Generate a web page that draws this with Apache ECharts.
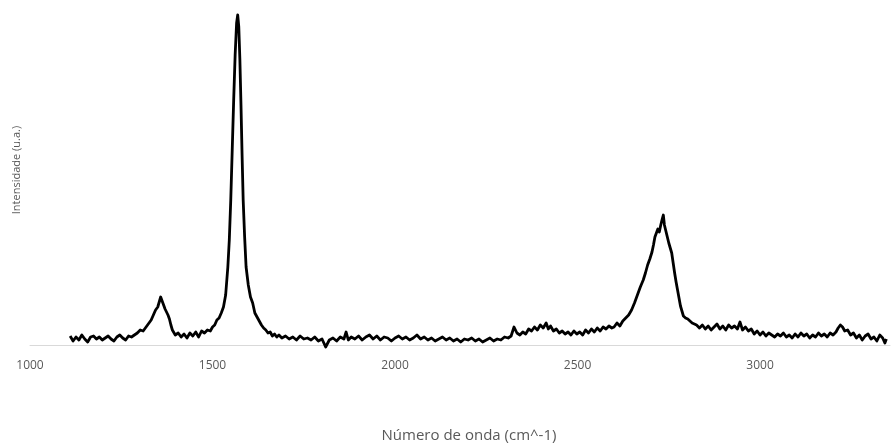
<!DOCTYPE html>
<html>
<head>
<meta charset="utf-8">
<script src="https://cdn.jsdelivr.net/npm/echarts@6/dist/echarts.min.js"></script>
<style>
html,body{margin:0;padding:0;background:#fff;}
#c{width:891px;height:445px;}
</style>
</head>
<body>
<div id="c"></div>
<script>
const xTicks = [1000, 1500, 2000, 2500, 3000];
const xTitle = "Número de onda (cm^-1)";
const yTitle = "Intensidade (u.a.)";

const wavenumber = [
1110,1118,1126,1134,1142,1150,1158,1166,1174,1182,1190,1198,1206,1214,1222,1230,1238,1246,1254,1262,1270,1278,
1286,1294,1302,1310,1318,1326,1332,1338,1344,1350,1354,1358,1362,1366,1370,1374,1378,1382,1386,1390,1394,1398,
1406,1414,1422,1430,1438,1446,1454,1462,1470,1478,1486,1494,1500,1506,1512,1518,1524,1530,1536,1542,1546,1550,1554,1558,1562,1566,1569,1572,1575,1578,1581,1584,1588,1592,1598,1604,1610,1616,1622,1628,1634,1640,1646,1652,1658,1664,1670,1676,1682,
1690,1700,1710,1720,1730,1740,1750,1760,1770,1780,1790,1800,1810,1820,1830,1840,1850,1860,1866,1872,1880,1890,1900,1910,1920,1930,1940,1950,1960,1970,1980,1990,2000,2010,2020,2030,2040,2050,2060,2070,2080,2090,2100,2110,2120,2130,2140,2150,2160,2170,2180,2190,2200,2210,2220,2230,2240,2250,2260,2270,2280,2290,2300,2310,2318,
2326,2334,2342,2350,2358,2366,2374,2382,2390,2398,2406,2414,2420,2426,2434,2442,2450,2458,2466,2474,2482,2490,2498,2506,2514,2522,2530,2538,2546,2554,2562,2570,2578,2586,2594,
2600,2608,2616,2624,2632,2640,2648,2656,2664,2672,2680,2686,2692,2698,2704,2708,2712,2716,2720,2724,2728,2732,2735,2738,2742,2746,2750,2754,2758,2762,2766,2770,2774,2778,2782,2786,2790,2796,2802,2808,2814,2820,2826,
2834,2842,2850,2858,2866,2874,2882,2890,2898,2906,2914,2922,2930,2938,2945,2952,2960,2968,2976,2984,2992,3000,3008,3016,3024,3032,3040,3048,3056,3064,3072,3080,3088,3096,3104,3112,3120,3128,3136,3144,3152,3160,3168,3176,3184,3192,3200,3208,3214,3220,3226,3232,3240,3248,3256,3264,3272,3280,3288,3296,3304,3312,3320,3328,3336,3342,3346
];

const intensity = [
9,4,8,5,10,6,3,8,9,6,8,5,7,9,6,4,8,10,7,5,9,8,
10,12,15,14,18,22,25,30,35,38,43,48,44,40,36,33,30,26,20,15,16,10,
12,8,11,7,12,9,13,8,14,12,15,14,18,20,25,27,32,38,50,78,105,145,195,245,290,322,330,318,285,240,190,145,108,78,60,48,42,32,28,24,20,17,15,12,13,9,11,8,10,
7,9,6,8,5,9,6,7,5,8,4,6,-2,5,7,4,8,6,13,5,8,6,9,5,8,10,6,9,5,8,7,4,7,9,6,8,5,7,10,6,8,5,7,4,6,8,5,7,4,6,3,6,5,7,4,6,3,5,7,4,6,5,8,7,9,
18,12,10,13,11,16,14,18,15,20,17,22,16,19,14,16,12,14,11,13,10,14,11,13,10,15,12,16,13,17,14,18,16,19,17,
18,22,19,24,27,30,35,42,50,58,65,72,80,86,93,100,108,112,116,113,120,126,130,120,114,108,102,97,92,82,72,63,55,47,39,34,29,27,26,24,22,21,20,
17,20,16,19,15,18,21,16,19,15,20,17,19,16,23,15,18,14,16,11,14,10,13,9,12,10,8,11,9,12,8,10,7,11,8,12,9,11,7,10,8,12,9,11,8,12,10,13,17,20,18,14,15,10,12,7,10,5,9,11,6,8,4,10,7,2,6
];

const points = wavenumber.map((w, i) => [w, intensity[i]]);

const chart = echarts.init(document.getElementById('c'), null, {renderer: 'canvas'});
chart.setOption({
  animation: false,
  backgroundColor: '#ffffff',
  grid: {left: 30, right: 1, top: 10, bottom: 100, containLabel: false},
  xAxis: {
    type: 'value',
    min: xTicks[0],
    max: 3356,
    interval: 500,
    splitLine: {show: false},
    axisTick: {show: false},
    axisLine: {show: true, lineStyle: {color: '#d9d9d9', width: 1}},
    axisLabel: {
      color: '#595959', fontSize: 12, fontFamily: 'Open Sans', margin: 15,
      showMaxLabel: false,
      formatter: v => (xTicks.indexOf(v) >= 0 ? String(v) : '')
    }
  },
  yAxis: {
    type: 'value', min: 0, max: 335,
    show: true,
    splitLine: {show: false},
    axisLine: {show: false}, axisTick: {show: false}, axisLabel: {show: false}
  },
  series: [{
    type: 'line',
    data: points,
    showSymbol: false,
    symbol: 'none',
    clip: false,
    lineStyle: {color: '#000000', width: 2.8, join: 'round'}
  }],
  graphic: [
    {type: 'text', x: 469, y: 436, style: {text: xTitle, fill: '#595959', font: '15px "Open Sans"', textAlign: 'center', textVerticalAlign: 'middle'}},
    {type: 'text', x: 17, y: 170, rotation: Math.PI / 2, style: {text: yTitle, fill: '#595959', font: '11px "Open Sans"', textAlign: 'center', textVerticalAlign: 'middle'}}
  ]
});
</script>
</body>
</html>
